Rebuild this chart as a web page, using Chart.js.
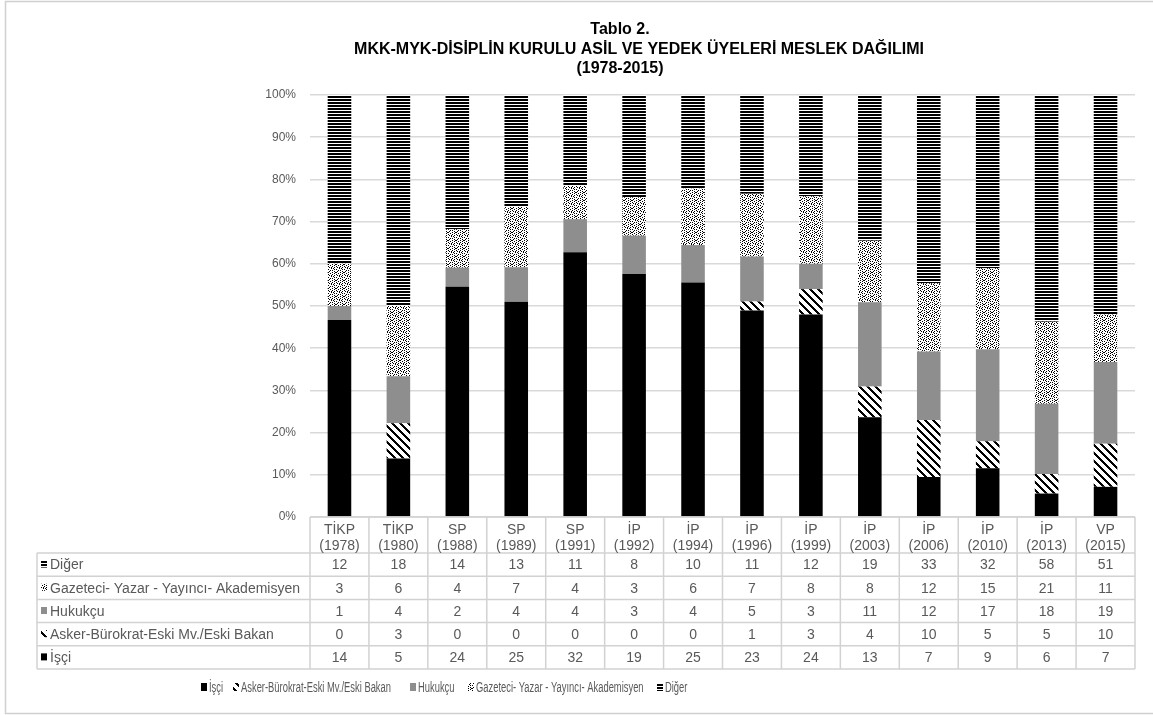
<!DOCTYPE html>
<html><head><meta charset="utf-8">
<script src="https://cdn.jsdelivr.net/npm/chart.js@4/dist/chart.umd.min.js"></script>
<style>html,body{margin:0;padding:0;background:#fff;}canvas{display:block;}</style>
</head><body>
<canvas id="c" width="1153" height="715"></canvas>
<script>
const categories = [['TİKP','(1978)'],['TİKP','(1980)'],['SP','(1988)'],['SP','(1989)'],['SP','(1991)'],['İP','(1992)'],['İP','(1994)'],['İP','(1996)'],['İP','(1999)'],['İP','(2003)'],['İP','(2006)'],['İP','(2010)'],['İP','(2013)'],['VP','(2015)']];
const seriesNames = ['İşçi','Asker-Bürokrat-Eski Mv./Eski Bakan','Hukukçu','Gazeteci- Yazar - Yayıncı- Akademisyen','Diğer'];
const isci     = [14,5,24,25,32,19,25,23,24,13,7,9,6,7];
const asker    = [0,3,0,0,0,0,0,1,3,4,10,5,5,10];
const hukukcu  = [1,4,2,4,4,3,4,5,3,11,12,17,18,19];
const gazeteci = [3,6,4,7,4,3,6,7,8,8,12,15,21,11];
const diger    = [12,18,14,13,11,8,10,11,12,19,33,32,58,51];
const yTicks = [0,10,20,30,40,50,60,70,80,90,100];
const titleLines = ['Tablo 2.','MKK-MYK-DİSİPLİN KURULU ASİL VE YEDEK ÜYELERİ MESLEK DAĞILIMI','(1978-2015)'];

const canvas = document.getElementById('c');
const ctx = canvas.getContext('2d');

function tile(rows){
  const h = rows.length, w = rows[0].length;
  const t = document.createElement('canvas'); t.width = w; t.height = h;
  const c = t.getContext('2d');
  c.fillStyle = '#fff'; c.fillRect(0,0,w,h);
  c.fillStyle = '#000';
  for(let y=0;y<h;y++) for(let x=0;x<w;x++) if(rows[y][x]==='X') c.fillRect(x,y,1,1);
  return ctx.createPattern(t,'repeat');
}
function diagTile(){
  const rows=[];
  for(let y=0;y<8;y++){let r='';for(let x=0;x<8;x++){r += (((x-y)%8+8)%8)<3?'X':'.';}rows.push(r);}
  return tile(rows);
}
const patIsci = '#000000';
const patAsker = diagTile();
const patHukukcu = '#8e8e8e';
const patGazeteci = tile([
  'X...X..X',
  '..X...X.',
  'X...X...',
  '.X.X..X.',
  '...X.X..',
  'X.....X.',
  '..X.X...',
  '.X....X.'
]);
const patDiger = tile(['X','X','.']);
const fills = [patIsci, patAsker, patHukukcu, patGazeteci, patDiger];
const rawSeries = [isci, asker, hukukcu, gazeteci, diger];
const totals = isci.map((_,i)=>rawSeries.reduce((s,a)=>s+a[i],0));

const datasets = rawSeries.map((arr,k)=>({
  label: seriesNames[k],
  data: arr.map((v,i)=>v/totals[i]*100),
  backgroundColor: fills[k],
  borderWidth: 0,
  categoryPercentage: 0.8,
  barPercentage: 0.5
}));

const FONT = '"Liberation Sans", Arial, sans-serif';
const GREY = '#595959';

const decor = {
  id:'decor',
  beforeDraw(chart){
    const c = chart.ctx;
    c.save();
    c.fillStyle='#fff'; c.fillRect(0,0,chart.width,chart.height);
    c.strokeStyle='#d0d0d0'; c.lineWidth=1.5;
    c.strokeRect(5.5,1.5,1170,712);
    c.restore();
  },
  afterDraw(chart){
    const c = chart.ctx;
    const area = chart.chartArea;
    c.save();
    // Title
    c.fillStyle='#000';
    c.font = 'bold 16px '+FONT;
    c.textAlign='center'; c.textBaseline='alphabetic';
    c.fillText(titleLines[0], 620, 34);
    c.fillText(titleLines[1], 639, 54);
    c.fillText(titleLines[2], 620, 73);

    // Data table
    const n = categories.length;
    const left = area.left, right = area.right;
    const colW = (right-left)/n;
    const top = area.bottom;
    const headH = 36;
    const rowH = 23.2;
    const labelLeft = 37;
    const rowSeries = [4,3,2,1,0];
    c.strokeStyle='#d2d2d2'; c.lineWidth=1.5;
    for(let i=0;i<=n;i++){
      const x = left + i*colW;
      c.beginPath(); c.moveTo(x, top); c.lineTo(x, top+headH+rowH*5); c.stroke();
    }
    c.beginPath(); c.moveTo(left, top); c.lineTo(right, top); c.stroke();
    for(let r=0;r<=5;r++){
      const y = top+headH+r*rowH;
      c.beginPath(); c.moveTo(labelLeft, y); c.lineTo(right, y); c.stroke();
    }
    c.beginPath(); c.moveTo(labelLeft, top+headH); c.lineTo(labelLeft, top+headH+5*rowH); c.stroke();

    c.fillStyle=GREY;
    c.font='14px '+FONT;
    c.textAlign='center'; c.textBaseline='middle';
    const xs = chart.scales.x;
    for(let i=0;i<n;i++){
      const cx = xs.getPixelForValue(i);
      c.fillText(categories[i][0], cx, top+13);
      c.fillText(categories[i][1], cx, top+29);
      rowSeries.forEach((s,r)=>{
        c.fillText(String(rawSeries[s][i]), cx, top+headH+r*rowH+rowH/2+1);
      });
    }
    // row labels
    c.textAlign='left';
    rowSeries.forEach((s,r)=>{
      const yc = top+headH+r*rowH+rowH/2;
      c.fillStyle = fills[s];
      c.fillRect(41, yc-4, 6, 7);
      c.fillStyle = GREY;
      c.font='14px '+FONT;
      c.fillText(seriesNames[s], 50, yc+1);
    });

    // Legend
    c.font='14px '+FONT;
    const refW = c.measureText(seriesNames[1]).width;
    const sx = 150/refW;
    const legX = [201, 233, 410, 468, 657];
    const legY = 687;
    seriesNames.forEach((name,k)=>{
      c.fillStyle = fills[k];
      c.fillRect(legX[k], legY-4, 6, 8);
      c.fillStyle = GREY;
      c.save();
      c.translate(legX[k]+8, legY);
      c.scale(sx,1);
      c.textAlign='left'; c.textBaseline='middle';
      c.fillText(name, 0, 1);
      c.restore();
    });
    c.restore();
  }
};

new Chart(canvas, {
  type:'bar',
  data:{ labels: categories.map(l=>l.join(' ')), datasets },
  options:{
    responsive:false, animation:false,
    layout:{ padding:{ left:250, right:18, top:95, bottom:198 } },
    scales:{
      x:{ stacked:true, display:false },
      y:{
        stacked:true, min:0, max:100,
        afterBuildTicks(s){ s.ticks = yTicks.map(v=>({value:v})); },
        afterFit(s){ s.width = 60; },
        ticks:{ callback:v=>v+'%', color:GREY, font:{size:12, family:FONT}, padding:14 },
        grid:{ color:'#d9d9d9', lineWidth:1.5, drawTicks:false },
        border:{ display:false }
      }
    },
    plugins:{ legend:{display:false}, title:{display:false}, tooltip:{enabled:false} }
  },
  plugins:[decor]
});
</script>
</body></html>
